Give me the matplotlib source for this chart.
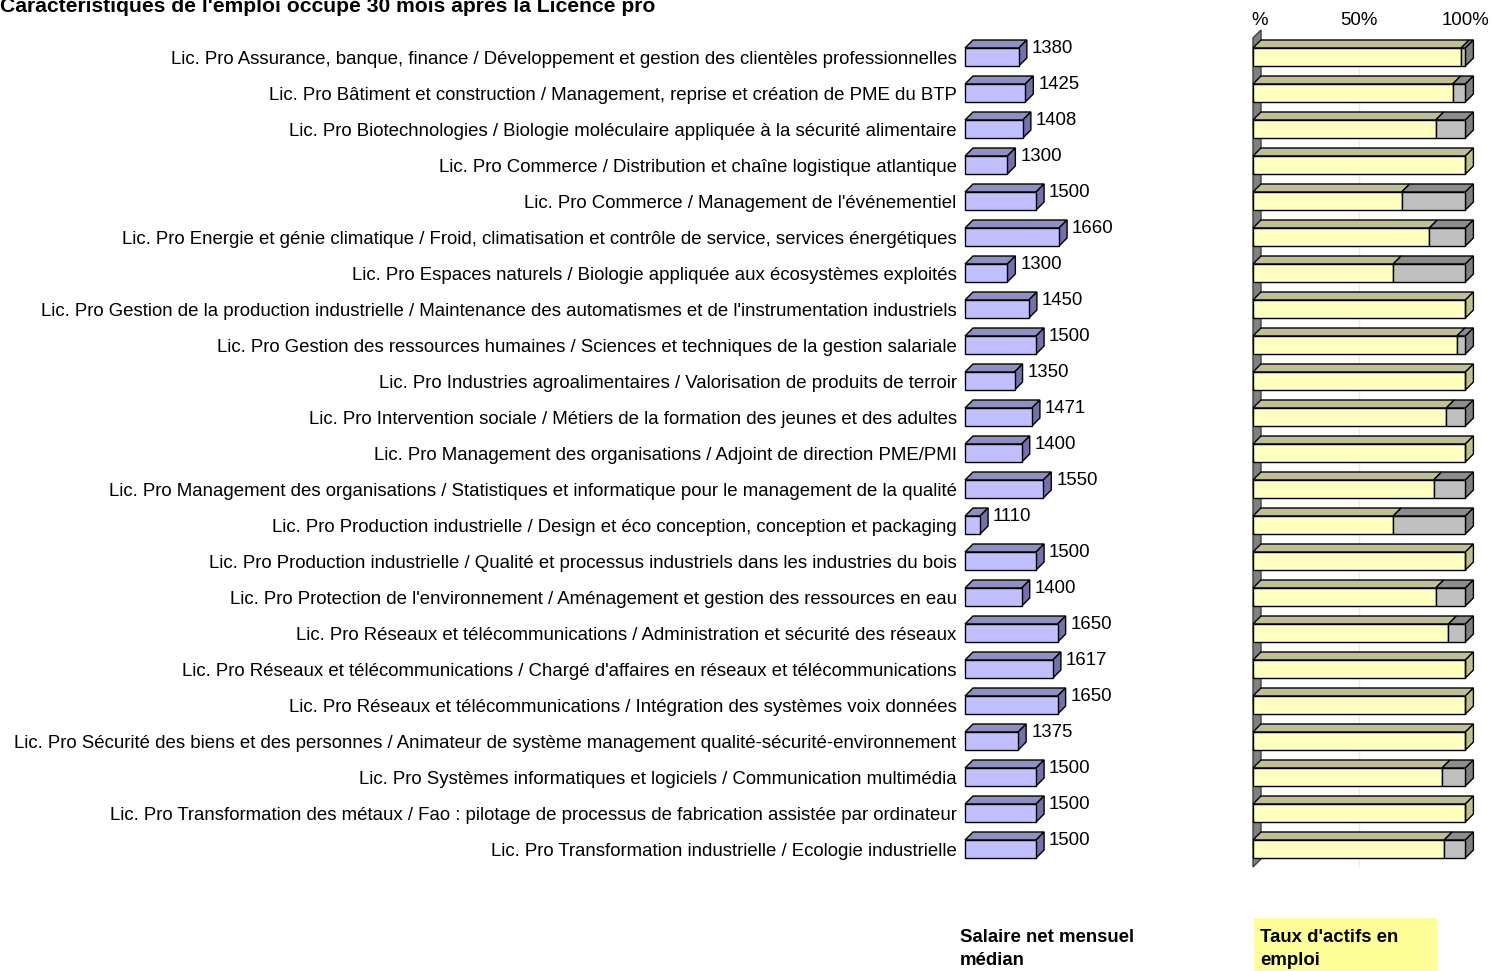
import matplotlib
matplotlib.use("Agg")
import matplotlib.pyplot as plt
from matplotlib.patches import Polygon

plt.rcParams['font.family'] = ['Liberation Sans', 'DejaVu Sans']

categories = [
    "Lic. Pro Assurance, banque, finance / Développement et gestion des clientèles professionnelles",
    "Lic. Pro Bâtiment et construction / Management, reprise et création de PME du BTP",
    "Lic. Pro Biotechnologies / Biologie moléculaire appliquée à la sécurité alimentaire",
    "Lic. Pro Commerce / Distribution et chaîne logistique atlantique",
    "Lic. Pro Commerce / Management de l'événementiel",
    "Lic. Pro Energie et génie climatique / Froid, climatisation et contrôle de service, services énergétiques",
    "Lic. Pro Espaces naturels / Biologie appliquée aux écosystèmes exploités",
    "Lic. Pro Gestion de la production industrielle / Maintenance des automatismes et de l'instrumentation industriels",
    "Lic. Pro Gestion des ressources humaines / Sciences et techniques de la gestion salariale",
    "Lic. Pro Industries agroalimentaires / Valorisation de produits de terroir",
    "Lic. Pro Intervention sociale / Métiers de la formation des jeunes et des adultes",
    "Lic. Pro Management des organisations / Adjoint de direction PME/PMI",
    "Lic. Pro Management des organisations / Statistiques et informatique pour le management de la qualité",
    "Lic. Pro Production industrielle / Design et éco conception, conception et packaging",
    "Lic. Pro Production industrielle / Qualité et processus industriels dans les industries du bois",
    "Lic. Pro Protection de l'environnement / Aménagement et gestion des ressources en eau",
    "Lic. Pro Réseaux et télécommunications / Administration et sécurité des réseaux",
    "Lic. Pro Réseaux et télécommunications / Chargé d'affaires en réseaux et télécommunications",
    "Lic. Pro Réseaux et télécommunications / Intégration des systèmes voix données",
    "Lic. Pro Sécurité des biens et des personnes / Animateur de système management qualité-sécurité-environnement",
    "Lic. Pro Systèmes informatiques et logiciels / Communication multimédia",
    "Lic. Pro Transformation des métaux / Fao : pilotage de processus de fabrication assistée par ordinateur",
    "Lic. Pro Transformation industrielle / Ecologie industrielle",
]
salaire = [1380, 1425, 1408, 1300, 1500, 1660, 1300, 1450, 1500, 1350, 1471, 1400,
           1550, 1110, 1500, 1400, 1650, 1617, 1650, 1375, 1500, 1500, 1500]
taux_emploi = [98, 94, 86, 100, 70, 83, 66, 100, 96, 100, 91, 100,
               85, 66, 100, 86, 92, 100, 100, 100, 89, 100, 90]
pct_ticks = [3, 50, 100]
pct_labels = ["%", "50%", "100%"]

W, H = 1492, 971
fig = plt.figure(figsize=(W / 100, H / 100), dpi=100)

n = len(categories)
top_px, bot_px = 39, 39 + 36 * n
sal_min, sal_max = 1005, 2005
px_per_unit = 0.1436
depth_px = 8

def axes_rect(left_px, width_px):
    return [left_px / W, 1 - bot_px / H, width_px / W, (bot_px - top_px) / H]

rows = list(range(n))
h = 0.5
dy = depth_px / 36


def draw_box(ax, x0, x1, r, topc, sidec, side=True):
    # top and right faces of a 3D bar
    dx = depth_px * (ax.get_xlim()[1] - ax.get_xlim()[0]) / (ax.bbox.width)
    y_top = r - h / 2
    ax.add_patch(Polygon([(x0, y_top), (x0 + dx, y_top - dy), (x1 + dx, y_top - dy), (x1, y_top)],
                         closed=True, facecolor=topc, edgecolor="black", lw=1.0, clip_on=False, zorder=3))
    if side:
        ax.add_patch(Polygon([(x1, y_top), (x1 + dx, y_top - dy), (x1 + dx, y_top - dy + h), (x1, y_top + h)],
                             closed=True, facecolor=sidec, edgecolor="black", lw=1.0, clip_on=False, zorder=3))
    return dx


# salary chart
ax1 = fig.add_axes(axes_rect(965, (sal_max - sal_min) * px_per_unit))
ax1.set_xlim(sal_min, sal_max)
ax1.set_ylim(n - 0.5, -0.5)
ax1.barh(rows, [v - sal_min for v in salaire], left=sal_min, height=h,
         color="#C0C0FF", edgecolor="black", lw=1.0, zorder=4, clip_on=False)
for r, v in zip(rows, salaire):
    dx = draw_box(ax1, sal_min, v, r, "#8F8FC2", "#7272A6")
    ax1.text(v + dx + 5 / px_per_unit, r - 0.24, str(v), fontsize=13.4, ha="left", va="center")
ax1.set_yticks(rows)
ax1.set_yticklabels(categories, fontsize=13.4)
ax1.tick_params(axis="y", length=0, pad=6)
ax1.set_xticks([])
for s in ax1.spines.values():
    s.set_visible(False)
ax1.patch.set_alpha(0)

# employment rate chart
ax2 = fig.add_axes(axes_rect(1253, 212.4))
ax2.set_xlim(0, 100)
ax2.set_ylim(n - 0.5, -0.5)
dx2 = depth_px * 100 / 212.4
ax2.axvline(50, color="#EBEBEB", lw=1, zorder=0)
ax2.axvline(100 + dx2, color="#EBEBEB", lw=1, zorder=0)
# left wall
ax2.add_patch(Polygon([(0, n - 0.5), (0, -0.5 - 0.03), (dx2, -0.5 - dy - 0.03), (dx2, n - 0.5 - dy)],
                      closed=True, facecolor="#808080", edgecolor="#404040", lw=1.0, clip_on=False, zorder=1))
gris = [100 - p for p in taux_emploi]
ax2.barh(rows, taux_emploi, height=h, color="#FFFFC0", edgecolor="black", lw=1.0, zorder=4, clip_on=False)
ax2.barh(rows, gris, left=taux_emploi, height=h, color="#C0C0C0", edgecolor="black", lw=1.0, zorder=4, clip_on=False)
for r, p in zip(rows, taux_emploi):
    draw_box(ax2, 0, p, r, "#C0C096", "#C0C096", side=(p >= 100))
    if p < 100:
        draw_box(ax2, p, 100, r, "#8C8C8C", "#808080")
ax2.xaxis.tick_top()
ax2.set_xticks(pct_ticks)
ax2.set_xticklabels(pct_labels, fontsize=13.4)
ax2.tick_params(axis="x", length=0, pad=7)
ax2.set_yticks([])
for s in ax2.spines.values():
    s.set_visible(False)
ax2.patch.set_alpha(0)

fig.text(0 / W, 1 - 12 / H, "Caractéristiques de l'emploi occupé 30 mois après la Licence pro",
         fontsize=15.2, fontweight="bold", ha="left", va="baseline")
fig.text(960 / W, 1 - 949 / H, "Salaire net mensuel\nmédian", fontsize=13.4, fontweight="bold",
         ha="left", va="center", linespacing=1.5)
fig.text(1260 / W, 1 - 949 / H, "Taux d'actifs en\nemploi", fontsize=13.4, fontweight="bold",
         ha="left", va="center", linespacing=1.5)
fig.patches.append(plt.Rectangle((1254 / W, 0), 183 / W, 53 / H, transform=fig.transFigure,
                                 facecolor="#FFFF99", edgecolor="none", zorder=-1))

fig.savefig("out.png", dpi=100)
